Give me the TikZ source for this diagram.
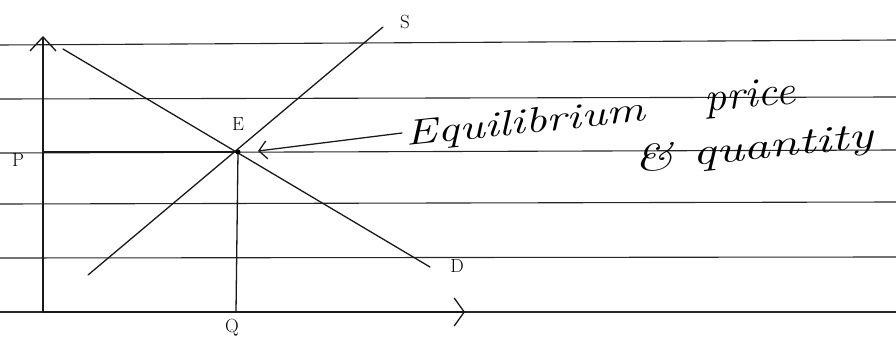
\documentclass[tikz,border=0pt]{standalone}
\usepackage{fontspec}
\setmainfont{Latin Modern Roman}
\usetikzlibrary{arrows.meta}
\begin{document}
\begin{tikzpicture}[x=1pt,y=-1pt,
  rule/.style={black!85,line width=1.1pt},
  pen/.style={black!90,line width=1.3pt,line cap=round},
  axis/.style={pen,line width=1.5pt},
  lbl/.style={font=\fontsize{19}{19}\selectfont,inner sep=1pt},
  hand/.style={font=\fontsize{34}{34}\selectfont\itshape,inner sep=0pt}]
\useasboundingbox (0,0) rectangle (896,350);
% ruled lines
\draw[rule] (0,45) -- (896,40);
\draw[rule] (0,99) -- (896,97);
\draw[rule] (0,153) -- (896,150);
\draw[rule] (0,204) -- (896,202);
\draw[rule] (0,258) -- (896,257);
\draw[rule] (0,312) -- (896,312);
% coordinates
\coordinate (O) at (43,312);
\coordinate (Ytop) at (43,36);
\coordinate (Xend) at (465,312);
\coordinate (E) at (238,152);
\coordinate (Pax) at (43,152);
\coordinate (Qax) at (236,312);
\coordinate (D1) at (63,49);
\coordinate (D2) at (430,267);
\coordinate (S1) at (88,275);
\coordinate (S2) at (383,27);
\coordinate (T) at (402,133);
\coordinate (Ah) at (258,151);
% axes
\draw[axis,-{Straight Barb[length=14pt,width=26pt,line width=1.3pt]}] (O) -- (Ytop);
\draw[axis,-{Straight Barb[length=10pt,width=28pt,line width=1.3pt]}] (O) -- (Xend);
% curves
\draw[pen] (D1) -- (D2);
\draw[pen] (S1) -- (S2);
\draw[pen,line width=2pt] (Pax) -- (E);
\draw[pen] (E) -- (Qax);
\fill (E) circle (2.5pt);
% annotation arrow
\draw[pen,-{Straight Barb[length=8pt,width=18pt,line width=1.3pt]}] (T) -- (Ah);
% labels
\node[lbl] (p) at (18,160) {P};
\node[lbl] (e) at (238,124) {E};
\node[lbl] (q) at (232,328) {Q};
\node[lbl] (s) at (405,22) {S};
\node[lbl] (d) at (457,266) {D};
\node[hand,anchor=base west] (eq) at (404,146) {\rotatebox{6}{\scalebox{1.42}[1.05]{Equilibrium}}};
\node[hand] (pr) at (750,98) {\rotatebox{5}{\scalebox{1.3}[1.2]{price}}};
\node[hand] (qt) at (754,150) {\rotatebox{6}{\scalebox{1.55}[1.1]{\& quantity}}};
\end{tikzpicture}
\end{document}
